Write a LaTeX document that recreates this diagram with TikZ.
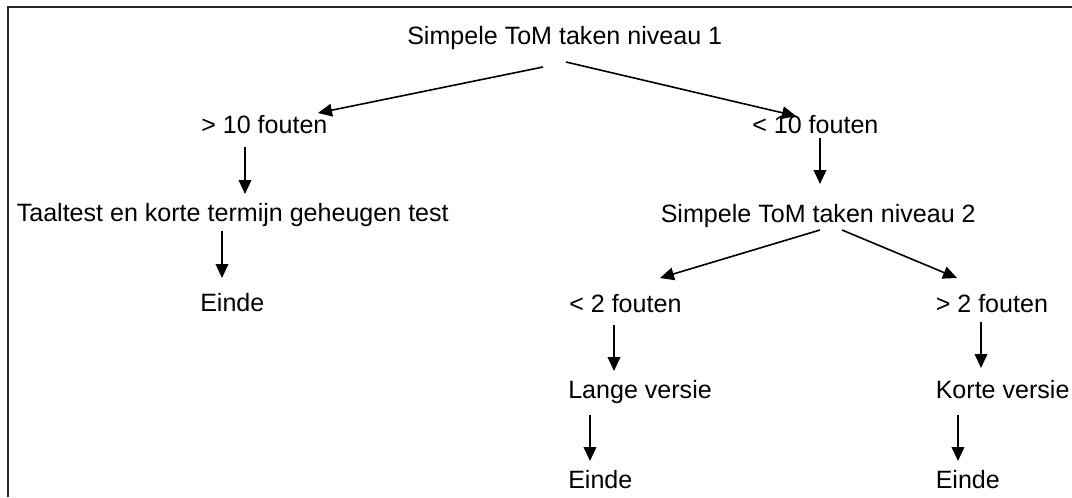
\documentclass[tikz,border=0pt]{standalone}
\usepackage{fontspec}
\setmainfont{Liberation Sans}
\usetikzlibrary{arrows.meta,calc}

\tikzset{
  lbl/.style={anchor=base west, inner sep=0pt, font=\fontsize{18.8}{22}\selectfont},
  arr/.style={line width=1.2pt, -{Triangle[length=10.5pt,width=9.5pt]}},
  frame/.style={line width=1.6pt, draw=black!85}
}

\begin{document}
\begin{tikzpicture}[x=0.75pt, y=-0.75pt]
  \useasboundingbox (0,0) rectangle (1072,497);
  \fill[white] (0,0) rectangle (1072,497);

  % open frame: top and left edges only
  \draw[frame] (8,497) -- (8,7) -- (1072,7);

  % decision tree labels (positioned by their baseline start)
  \node[lbl] (t1) at (407,44)   {Simpele ToM taken niveau 1};
  \node[lbl] (a)  at (201,133)  {> 10 fouten};
  \node[lbl] (b)  at (752,133)  {< 10 fouten};
  \node[lbl] (c)  at (16.5,221) {Taaltest en korte termijn geheugen test};
  \node[lbl] (d)  at (200,311)  {Einde};
  \node[lbl] (t2) at (660.5,222){Simpele ToM taken niveau 2};
  \node[lbl] (e)  at (569,312)  {< 2 fouten};
  \node[lbl] (f)  at (935.5,312){> 2 fouten};
  \node[lbl] (g)  at (568,398)  {Lange versie};
  \node[lbl] (h)  at (935.5,398){Korte versie};
  \node[lbl] (i)  at (568,488)  {Einde};
  \node[lbl] (j)  at (935.5,488){Einde};

  % connectors
  \draw[arr] ($(t1.base west)+(136,23)$)   -- ($(a.base west)+(117,-20)$);
  \draw[arr] ($(t1.base west)+(159,18)$)   -- ($(b.base west)+(44,-17)$);
  \draw[arr] ($(a.base west)+(44,14)$)     -- ($(c.base west)+(228.5,-27)$);
  \draw[arr] ($(c.base west)+(205.5,10)$)  -- ($(d.base west)+(22,-33)$);
  \draw[arr] ($(b.base west)+(68,5)$)      -- ($(t2.base west)+(159.5,-38)$);
  \draw[arr] ($(t2.base west)+(159.5,8)$)  -- ($(e.base west)+(91,-34)$);
  \draw[arr] ($(t2.base west)+(181.5,8)$)  -- ($(f.base west)+(21.5,-34)$);
  \draw[arr] ($(e.base west)+(45,13)$)     -- ($(g.base west)+(46,-27)$);
  \draw[arr] ($(g.base west)+(22,17)$)     -- ($(i.base west)+(22,-27)$);
  \draw[arr] ($(f.base west)+(45.5,10)$)   -- ($(h.base west)+(45.5,-30)$);
  \draw[arr] ($(h.base west)+(22.5,17)$)   -- ($(j.base west)+(22.5,-27)$);
\end{tikzpicture}
\end{document}
